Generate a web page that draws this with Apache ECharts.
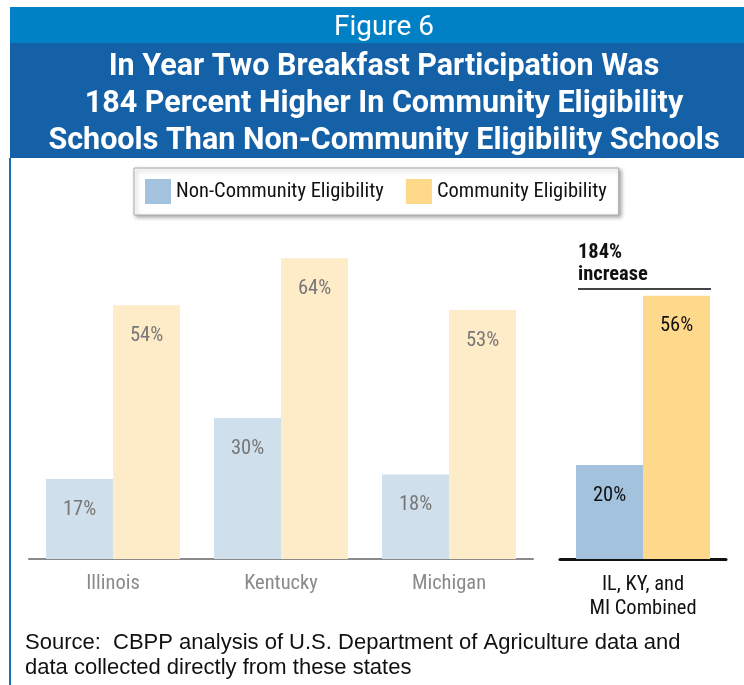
<!DOCTYPE html>
<html>
<head>
<meta charset="utf-8">
<script src="https://cdn.jsdelivr.net/npm/echarts@6/dist/echarts.min.js"></script>
<style>
  html, body { margin: 0; padding: 0; background: #fff; }
  #main { width: 744px; height: 685px; }
</style>
</head>
<body>
<div id="main"></div>
<script>
var states = ['Illinois', 'Kentucky', 'Michigan'];
var nonCommunity = [17, 30, 18];
var community = [54, 64, 53];
var combinedLabel = ['IL, KY, and\nMI Combined'];
var combinedNon = [20];
var combinedCom = [56];
var seriesNames = ['Non-Community Eligibility', 'Community Eligibility'];

var narrow = '"Roboto Condensed", "DejaVu Sans Condensed", sans-serif';

var myChart = echarts.init(document.getElementById('main'));

var pct = function (p) { return p.value + '%'; };

var option = {
    animation: false,
    title: [{
        text: 'Figure 6',
        left: 379,
        textAlign: 'center',
        top: 9,
        textStyle: { color: '#fff', fontFamily: 'Roboto, sans-serif', fontWeight: 'normal', fontSize: 28 }
    }, {
        text: 'In Year Two Breakfast Participation Was\n184 Percent Higher In Community Eligibility\nSchools Than Non-Community Eligibility Schools',
        left: 379,
        textAlign: 'center',
        top: 44,
        textStyle: { color: '#fff', fontFamily: 'Roboto, sans-serif', fontWeight: 'bold', fontSize: 30.5, lineHeight: 37 }
    }],
    legend: {
        left: 134,
        top: 168,
        padding: [11, 12, 11, 11],
        itemWidth: 26,
        itemHeight: 25,
        itemGap: 22,
        backgroundColor: '#fff',
        borderColor: '#aaa',
        borderWidth: 1,
        shadowBlur: 4,
        shadowColor: 'rgba(0,0,0,0.35)',
        shadowOffsetX: 2,
        shadowOffsetY: 2,
        selectedMode: false,
        textStyle: { fontFamily: narrow, fontSize: 20.5, color: '#111' },
        data: [
            { name: seriesNames[0], icon: 'rect', itemStyle: { color: '#A2C2DE' } },
            { name: seriesNames[1], icon: 'rect', itemStyle: { color: '#FFD98B' } }
        ]
    },
    grid: [
        { left: 29, width: 504, top: 89, bottom: 126 },
        { left: 560, width: 166, top: 89, bottom: 126 }
    ],
    xAxis: [{
        gridIndex: 0,
        type: 'category',
        data: states,
        axisTick: { show: false },
        axisLine: { lineStyle: { color: '#8a8a8a', width: 2 } },
        axisLabel: { color: '#8a8a8a', fontFamily: narrow, fontSize: 20.5, margin: 14 }
    }, {
        gridIndex: 1,
        type: 'category',
        data: combinedLabel,
        axisTick: { show: false },
        axisLine: { lineStyle: { color: '#111', width: 3 } },
        axisLabel: { color: '#111', fontFamily: narrow, fontSize: 20.5, margin: 14, lineHeight: 24 }
    }],
    yAxis: [
        { gridIndex: 0, type: 'value', min: 0, max: 100, show: false },
        { gridIndex: 1, type: 'value', min: 0, max: 100, show: false }
    ],
    series: [{
        name: seriesNames[0],
        type: 'bar',
        xAxisIndex: 0, yAxisIndex: 0,
        data: nonCommunity,
        barWidth: 67,
        barGap: '0%',
        itemStyle: { color: '#CFDFEB' },
        label: { show: true, position: 'insideTop', distance: 20, formatter: pct, color: '#777', fontFamily: narrow, fontSize: 20.5 }
    }, {
        name: seriesNames[1],
        type: 'bar',
        xAxisIndex: 0, yAxisIndex: 0,
        data: community,
        barWidth: 67,
        barGap: '0%',
        itemStyle: { color: '#FEEBC8' },
        label: { show: true, position: 'insideTop', distance: 20, formatter: pct, color: '#777', fontFamily: narrow, fontSize: 20.5 }
    }, {
        name: seriesNames[0],
        type: 'bar',
        xAxisIndex: 1, yAxisIndex: 1,
        data: combinedNon,
        barWidth: 67,
        barGap: '0%',
        itemStyle: { color: '#A2C2DE' },
        label: { show: true, position: 'insideTop', distance: 20, formatter: pct, color: '#111', fontFamily: narrow, fontSize: 20.5 }
    }, {
        name: seriesNames[1],
        type: 'bar',
        xAxisIndex: 1, yAxisIndex: 1,
        data: combinedCom,
        barWidth: 67,
        barGap: '0%',
        itemStyle: { color: '#FFD98B' },
        label: { show: true, position: 'insideTop', distance: 20, formatter: pct, color: '#111', fontFamily: narrow, fontSize: 20.5 }
    }],
    graphic: [
        // banner
        { type: 'rect', z: -1, shape: { x: 10, y: 7, width: 734, height: 36 }, style: { fill: '#0081C6' } },
        { type: 'rect', z: -1, shape: { x: 10, y: 43, width: 734, height: 115 }, style: { fill: '#1561A7' } },
        // left border
        { type: 'line', z: -1, shape: { x1: 10, y1: 158, x2: 10, y2: 685 }, style: { stroke: '#1F6FB5', lineWidth: 2 } },
        // increase note
        { type: 'text', left: 578, top: 242, style: { text: '184%\nincrease', fill: '#111', font: 'bold 20.5px ' + narrow, lineHeight: 22 } },
        { type: 'line', shape: { x1: 578, y1: 289, x2: 711, y2: 289 }, style: { stroke: '#444', lineWidth: 2 } },
        // source
        { type: 'text', left: 25, top: 630, style: { text: 'Source:  CBPP analysis of U.S. Department of Agriculture data and\ndata collected directly from these states', fill: '#111', font: '22px "Liberation Sans", Arial, sans-serif', lineHeight: 25 } }
    ]
};

myChart.setOption(option);
</script>
</body>
</html>
